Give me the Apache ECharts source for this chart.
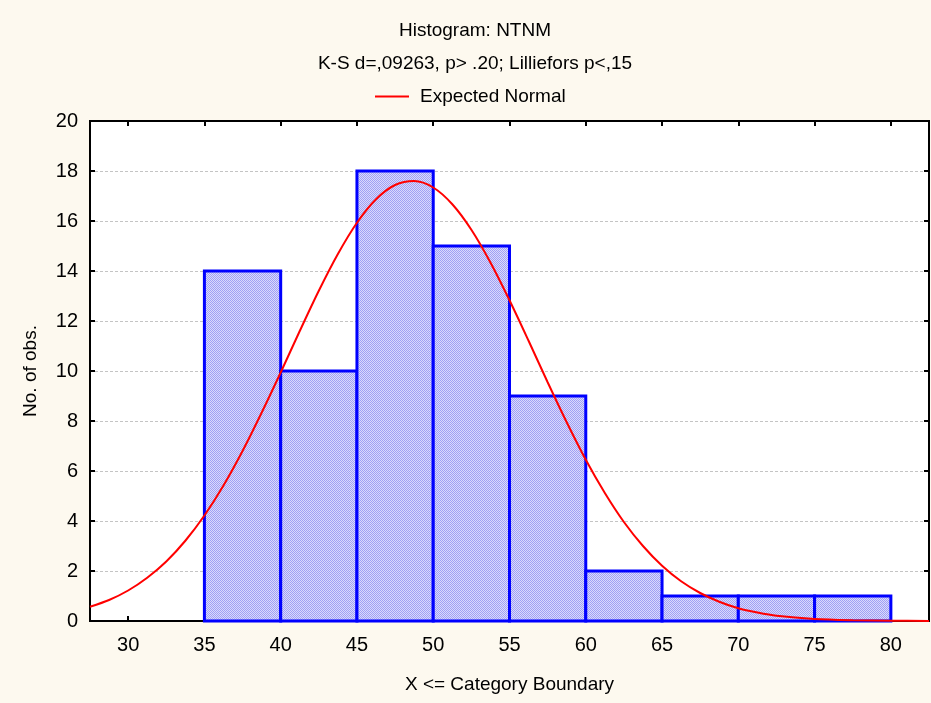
<!DOCTYPE html>
<html>
<head>
<meta charset="utf-8">
<script src="https://cdn.jsdelivr.net/npm/echarts@6/dist/echarts.min.js"></script>
<style>
html,body{margin:0;padding:0;background:#fdf9ef;}
#chart{width:931px;height:703px;}
</style>
</head>
<body>
<div id="chart"></div>
<script>
// ---- data ----
const binStarts = [35, 40, 45, 50, 55, 60, 65, 70, 75];
const binEnds   = [40, 45, 50, 55, 60, 65, 70, 75, 80];
const counts    = [14, 10, 18, 15, 9, 2, 1, 1, 1];
const curveX = [27.5, 28.75, 30, 31.25, 32.5, 33.75, 35, 36.25, 37.5, 38.75, 40, 41.25, 42.5, 43.75, 45, 46.25, 47.5, 48.75, 50, 51.25, 52.5, 53.75, 55, 56.25, 57.5, 58.75, 60, 61.25, 62.5, 63.75, 65, 66.25, 67.5, 68.75, 70, 71.25, 72.5, 75, 77.5, 80, 82.5];
const curveY = [0.57, 0.84, 1.22, 1.73, 2.38, 3.21, 4.22, 5.42, 6.8, 8.33, 9.94, 11.6, 13.21, 14.68, 15.93, 16.87, 17.44, 17.6, 17.34, 16.67, 15.65, 14.34, 12.83, 11.21, 9.55, 7.95, 6.45, 5.12, 3.96, 3.0, 2.21, 1.59, 1.12, 0.77, 0.51, 0.34, 0.21, 0.08, 0.03, 0.01, 0.0];
const xTicks = [30, 35, 40, 45, 50, 55, 60, 65, 70, 75, 80];
const yTicks = [0, 2, 4, 6, 8, 10, 12, 14, 16, 18, 20];
const titleText = 'Histogram: NTNM';
const subText = 'K-S d=,09263, p> .20; Lilliefors p<,15';
const legendName = 'Expected Normal';
const xName = 'X <= Category Boundary';
const yName = 'No. of obs.';

// ---- pattern ----
const pc = document.createElement('canvas');
pc.width = 2; pc.height = 2;
const ctx = pc.getContext('2d');
ctx.fillStyle = '#dadafc'; ctx.fillRect(0, 0, 2, 2);
ctx.fillStyle = '#a0a0f4'; ctx.fillRect(0, 0, 1, 1); ctx.fillRect(1, 1, 1, 1);

const FONT = '"Liberation Sans", Arial, sans-serif';
const chart = echarts.init(document.getElementById('chart'));
const histData = binStarts.map((s, i) => [s, binEnds[i], counts[i]]);
const lineData = curveX.map((x, i) => [x, curveY[i]]);

chart.setOption({
  backgroundColor: '#fdf9ef',
  animation: false,
  title: [
    {text: titleText, left: 475, top: 21, textAlign: 'center', padding: 0,
     textStyle: {fontFamily: FONT, fontSize: 19, fontWeight: 'normal', color: '#000', lineHeight: 20}},
    {text: subText, left: 475, top: 54, textAlign: 'center', padding: 0,
     textStyle: {fontFamily: FONT, fontSize: 19, fontWeight: 'normal', color: '#000', lineHeight: 20}}
  ],
  legend: {
    data: [{name: legendName, icon: 'rect'}], left: 375, top: 87, padding: 0,
    itemWidth: 34, itemHeight: 2,
    textStyle: {fontFamily: FONT, fontSize: 19, color: '#000', padding: [0, 0, 0, 6]}
  },
  grid: {left: 90, right: 2, top: 121, bottom: 82, show: true, backgroundColor: '#fff', borderColor: '#000', borderWidth: 2},
  xAxis: [
    {type: 'value', min: 27.5, max: 82.5, position: 'bottom',
     name: xName, nameLocation: 'middle', nameGap: 54,
     nameTextStyle: {fontFamily: FONT, fontSize: 19, color: '#000'},
     axisLine: {show: true, onZero: false, lineStyle: {color: '#000', width: 2}},
     axisTick: {show: true, inside: true, length: 5, customValues: xTicks, lineStyle: {color: '#000', width: 2}},
     axisLabel: {customValues: xTicks, margin: 14, fontFamily: FONT, fontSize: 20, color: '#000'},
     splitLine: {show: false}},
    {type: 'value', min: 27.5, max: 82.5, position: 'top',
     axisLine: {show: true, onZero: false, lineStyle: {color: '#000', width: 2}},
     axisTick: {show: true, inside: true, length: 5, customValues: xTicks, lineStyle: {color: '#000', width: 2}},
     axisLabel: {show: false}, splitLine: {show: false}}
  ],
  yAxis: [
    {type: 'value', min: 0, max: 20, interval: 2, position: 'left',
     name: yName, nameLocation: 'middle', nameGap: 50,
     nameTextStyle: {fontFamily: FONT, fontSize: 19, color: '#000'},
     axisLine: {show: true, lineStyle: {color: '#000', width: 2}},
     axisTick: {show: true, inside: true, length: 5, lineStyle: {color: '#000', width: 2}},
     axisLabel: {margin: 12, fontFamily: FONT, fontSize: 20, color: '#000'},
     splitLine: {show: true, lineStyle: {color: '#c4c4c4', type: [3, 2], width: 1}}},
    {type: 'value', min: 0, max: 20, interval: 2, position: 'right',
     axisLine: {show: true, lineStyle: {color: '#000', width: 2}},
     axisTick: {show: true, inside: true, length: 5, lineStyle: {color: '#000', width: 2}},
     axisLabel: {show: false}, splitLine: {show: false}}
  ],
  series: [
    {type: 'custom', name: 'hist', xAxisIndex: 0, yAxisIndex: 0, z: 2,
     data: histData,
     encode: {x: [0, 1], y: 2},
     renderItem: function (params, api) {
       const tl = api.coord([api.value(0), api.value(2)]);
       const br = api.coord([api.value(1), 0]);
       return {type: 'rect',
         shape: {x: tl[0], y: tl[1], width: br[0] - tl[0], height: br[1] - tl[1]},
         style: {fill: {image: pc, repeat: 'repeat'}, stroke: '#0000ff', lineWidth: 3}};
     }},
    {type: 'line', name: legendName, xAxisIndex: 0, yAxisIndex: 0, z: 5,
     data: lineData, smooth: 0.3, symbol: 'none', showSymbol: false,
     lineStyle: {color: '#ff0000', width: 2}, itemStyle: {color: '#ff0000'}}
  ]
});
</script>
</body>
</html>
